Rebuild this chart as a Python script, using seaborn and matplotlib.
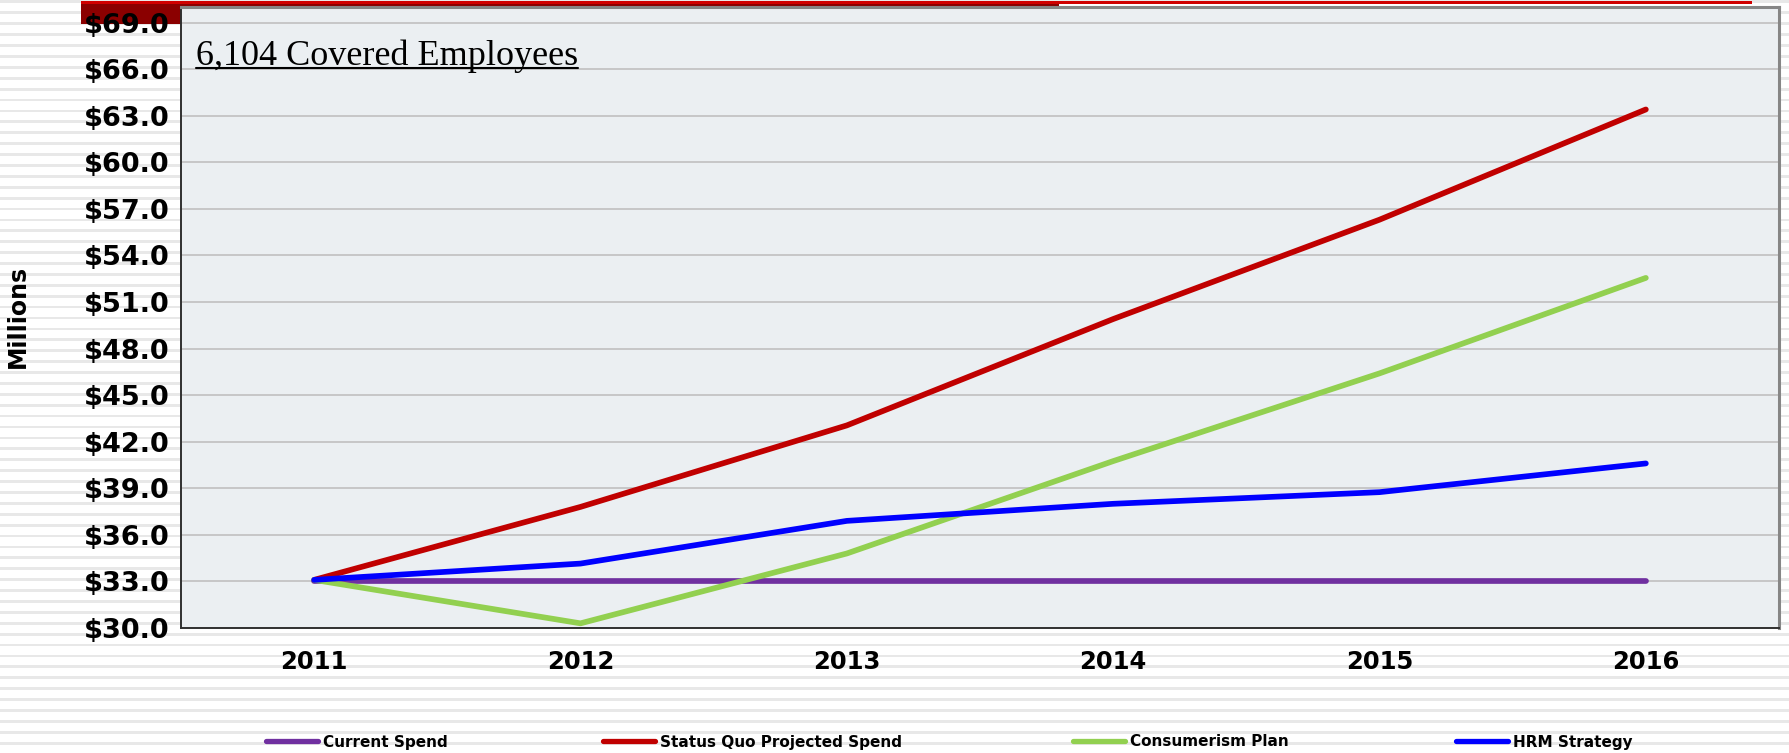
import numpy as np
import pandas as pd
import matplotlib
matplotlib.use("Agg")
import matplotlib.pyplot as plt
from matplotlib.patches import Rectangle
from matplotlib.lines import Line2D
import seaborn as sns

# ---------------- data ----------------
years = [2011, 2012, 2013, 2014, 2015, 2016]
current_spend = [33.0, 33.0, 33.0, 33.0, 33.0, 33.0]
status_quo = [33.1, 37.8, 43.05, 49.9, 56.3, 63.4]
consumerism = [33.1, 30.3, 34.8, 40.75, 46.4, 52.55]
hrm_strategy = [33.1, 34.15, 36.9, 38.0, 38.75, 40.6]
series_names = ["Current Spend", "Status Quo Projected Spend",
                "Consumerism Plan", "HRM Strategy"]
series_colors = ["#7030A0", "#C00000", "#92D050", "#0000FF"]
y_ticks = list(np.arange(30, 70, 3))
annotation = "6,104 Covered Employees"
y_title = "Millions"

df = pd.concat([
    pd.DataFrame({"Year": years, "Value": vals, "Series": name})
    for name, vals in zip(series_names,
                          [current_spend, status_quo, consumerism, hrm_strategy])
], ignore_index=True)

# ---------------- style ----------------
sns.set_style("white")
plt.rcParams["font.family"] = ["DejaVu Sans"]
plt.rcParams["text.color"] = "black"
plt.rcParams["xtick.color"] = "black"
plt.rcParams["ytick.color"] = "black"

W, H = 1790, 753
fig = plt.figure(figsize=(W / 100, H / 100), dpi=100)
fig.patch.set_facecolor("white")

# striped slide background
period = 10.9
y0 = 1.9
k = 0
while y0 + k * period < H + 5:
    yc = y0 + k * period
    fig.patches.append(Rectangle((0, 1 - (yc + 1.4) / H), 1, 2.8 / H,
                                 transform=fig.transFigure, facecolor="#E8E8E8",
                                 edgecolor="none", zorder=-3))
    k += 1

# top decorative bars
fig.patches.append(Rectangle((81 / W, 1 - 24 / H), (1059 - 81) / W, 21 / H,
                             transform=fig.transFigure, facecolor="#8B0000",
                             edgecolor="none", zorder=-2))
fig.patches.append(Rectangle((81 / W, 1 - 3.5 / H), (1752 - 81) / W, 3 / H,
                             transform=fig.transFigure, facecolor="#D00000",
                             edgecolor="none", zorder=-2))

left, right, top, bottom = 181, 1779, 7, 628
ax = fig.add_axes([left / W, 1 - bottom / H, (right - left) / W, (bottom - top) / H])
ax.set_facecolor("#EBEFF2")

sns.lineplot(data=df, x="Year", y="Value", hue="Series", hue_order=series_names,
             palette=dict(zip(series_names, series_colors)), linewidth=4.1,
             solid_capstyle="round", legend=False, ax=ax, sort=False)

ax.set_xlim(years[0] - 0.5, years[-1] + 0.5)
ax.set_ylim(30, 70)

ax.set_yticks(y_ticks)
ax.set_yticklabels([f"${v:.1f}" for v in y_ticks], fontsize=19.5, fontweight="bold")
ax.set_xticks(years)
ax.set_xticklabels([str(y) for y in years], fontsize=17.5, fontweight="bold")
ax.set_xticks([y - 0.5 for y in years] + [years[-1] + 0.5], minor=True)
ax.tick_params(axis="x", which="major", length=0, pad=16)
ax.tick_params(axis="x", which="minor", length=6.5, width=1.2, direction="out", color="#303030")
ax.tick_params(axis="y", which="major", length=5.5, width=1.2, direction="out",
               color="#303030", pad=3)
ax.set_xlabel("")
ax.set_ylabel("")

ax.yaxis.grid(True, color="#C0C0C0", linewidth=1.2)
ax.xaxis.grid(False)
ax.set_axisbelow(True)

for s in ["left", "bottom"]:
    ax.spines[s].set_color("#303030")
    ax.spines[s].set_linewidth(1.4)
for s in ["top", "right"]:
    ax.spines[s].set_color("#868686")
    ax.spines[s].set_linewidth(2.2)

# y title
fig.text(18 / W, 1 - 316 / H, y_title, rotation=90, ha="center", va="center",
         fontsize=17, fontweight="bold", color="black")

# annotation with underline
txt = ax.text(15 / (right - left), (bottom - 65) / (bottom - top), annotation,
              transform=ax.transAxes, family=["Liberation Serif"], fontsize=26,
              ha="left", va="baseline", color="black")
fig.canvas.draw()
bb = txt.get_window_extent(renderer=fig.canvas.get_renderer())
uy = 1 - 68 / H
fig.add_artist(Line2D([bb.x0 / W, bb.x1 / W], [uy, uy], transform=fig.transFigure,
                      color="black", linewidth=1.5))

# legend: one entry per reference slot
legend_x = [266, 603, 1073, 1456]
for name, color, lx in zip(series_names, series_colors, legend_x):
    h = Line2D([0], [0], color=color, linewidth=3.8, solid_capstyle="round")
    fig.legend([h], [name], loc="center left", bbox_to_anchor=(lx / W, 1 - 742 / H),
               frameon=False, prop={"weight": "bold", "size": 11},
               handlelength=3.4, handletextpad=0.35, borderpad=0, borderaxespad=0)

fig.savefig("out.png", dpi=100)
